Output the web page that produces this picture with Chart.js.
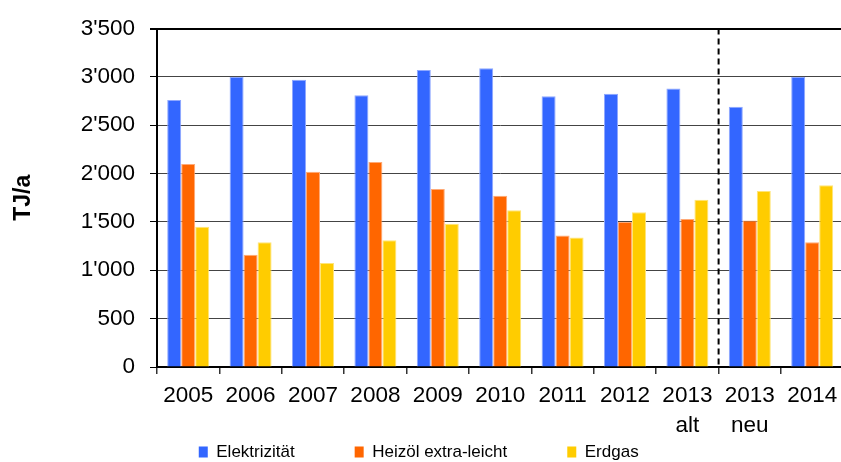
<!DOCTYPE html>
<html>
<head>
<meta charset="utf-8">
<script src="https://cdn.jsdelivr.net/npm/chart.js@4/dist/chart.umd.min.js"></script>
<style>
  html, body { margin: 0; padding: 0; overflow: hidden; background: #fff; }
  #wrap { width: 846px; height: 462px; position: relative; }
</style>
</head>
<body>
<div id="wrap"><canvas id="c"></canvas></div>
<script>
const categories = ['2005', '2006', '2007', '2008', '2009', '2010', '2011', '2012', ['2013', 'alt'], ['2013', 'neu'], '2014'];
const elektrizitaet = [2760, 3000, 2970, 2810, 3070, 3090, 2800, 2825, 2880, 2690, 3000];
const heizoel = [2100, 1160, 2020, 2120, 1840, 1770, 1360, 1500, 1530, 1515, 1290];
const erdgas = [1450, 1290, 1075, 1310, 1480, 1620, 1340, 1600, 1730, 1820, 1880];
const seriesNames = ['Elektrizität', 'Heizöl extra-leicht', 'Erdgas'];
const yTicks = { min: 0, max: 3500, step: 500 };
const yTitle = 'TJ/a';
const dividerAfterIndex = 8; // dashed line between "2013 alt" and "2013 neu"

function fmt(v) {
  return String(v).replace(/\B(?=(\d{3})+(?!\d))/g, "'");
}

const FONT = "'Liberation Sans', Arial, sans-serif";

const dividerPlugin = {
  id: 'divider',
  afterLayout(chart) {
    // let the x tick labels (two-line ones too) extend below the compact axis box
    chart.scales.x.bottom = chart.height;
  },
  afterDatasetsDraw(chart) {
    const x = chart.scales.x;
    const area = chart.chartArea;
    const px = (x.getPixelForValue(dividerAfterIndex) + x.getPixelForValue(dividerAfterIndex + 1)) / 2;
    const ctx = chart.ctx;
    ctx.save();
    ctx.strokeStyle = '#000';
    ctx.lineWidth = 2;
    ctx.setLineDash([6, 4]);
    ctx.beginPath();
    ctx.moveTo(px, area.top);
    ctx.lineTo(px, area.bottom);
    ctx.stroke();
    ctx.restore();
  }
};

new Chart(document.getElementById('c'), {
  type: 'bar',
  data: {
    labels: categories,
    datasets: [
      { label: seriesNames[0], data: elektrizitaet, backgroundColor: '#3366FF', borderColor: '#8FA8FF', borderWidth: 1 },
      { label: seriesNames[1], data: heizoel, backgroundColor: '#FF6600', borderColor: '#FFAA77', borderWidth: 1 },
      { label: seriesNames[2], data: erdgas, backgroundColor: '#FFCC00', borderColor: '#FFE577', borderWidth: 1 }
    ]
  },
  options: {
    responsive: true,
    maintainAspectRatio: false,
    animation: false,
    devicePixelRatio: 1,
    layout: { padding: { top: 25, left: -6, right: 2.6, bottom: 0 } },
    datasets: { bar: { categoryPercentage: 0.673, barPercentage: 1.0 } },
    plugins: {
      tooltip: { enabled: false },
      legend: {
        position: 'bottom',
        maxHeight: 78.5,
        labels: {
          font: { family: FONT, size: 17 },
          color: '#000',
          boxWidth: 9,
          boxHeight: 11,
          padding: 60,
          generateLabels: (chart) => Chart.defaults.plugins.legend.labels.generateLabels(chart).map(l => Object.assign(l, { lineWidth: 0 }))
        }
      }
    },
    scales: {
      x: {
        afterFit: (s) => { s.height = 16.5; },
        grid: { display: true, drawOnChartArea: false, drawTicks: true, tickLength: 7, color: '#333', lineWidth: 1.5 },
        border: { display: true, color: '#000', width: 2 },
        ticks: { font: { family: FONT, size: 22.5, lineHeight: 1.36 }, color: '#000', padding: 6, maxRotation: 0, autoSkip: false }
      },
      y: {
        min: yTicks.min,
        max: yTicks.max,
        afterFit: (s) => { s.width = 163; },
        grid: {
          drawTicks: true,
          tickLength: 7,
          color: (c) => (c.tick && c.tick.value === yTicks.max) ? '#000' : '#444',
          lineWidth: (c) => (c.tick && c.tick.value === yTicks.max) ? 2 : 1,
          tickColor: '#000'
        },
        border: { display: true, color: '#000', width: 2 },
        ticks: {
          stepSize: yTicks.step,
          font: { family: FONT, size: 22.5 },
          color: '#000',
          padding: 15,
          callback: (v) => fmt(v)
        },
        title: {
          display: true,
          text: yTitle,
          font: { family: FONT, size: 23, weight: 'bold' },
          color: '#000',
          padding: { top: 16, bottom: 0 }
        }
      }
    }
  },
  plugins: [dividerPlugin]
});
</script>
</body>
</html>
